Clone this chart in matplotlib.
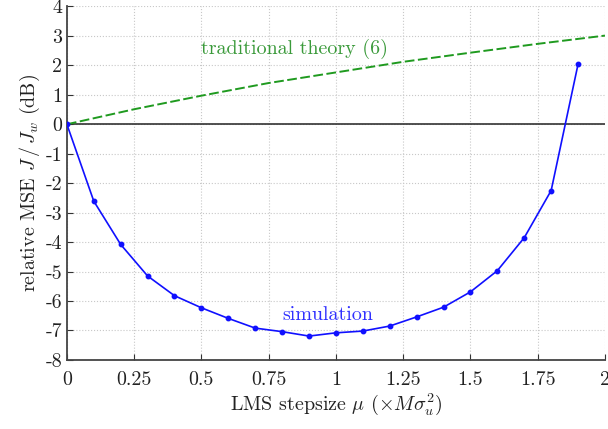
import matplotlib
matplotlib.use("Agg")
import matplotlib.pyplot as plt

plt.rcParams["font.family"] = "serif"
plt.rcParams["font.serif"] = ["cmr10", "DejaVu Serif"]
plt.rcParams["mathtext.fontset"] = "cm"
plt.rcParams["axes.unicode_minus"] = False

# simulated relative MSE (dB) vs LMS stepsize
mu_sim = [0.0, 0.1, 0.2, 0.3, 0.4, 0.5, 0.6, 0.7, 0.8, 0.9,
          1.0, 1.1, 1.2, 1.3, 1.4, 1.5, 1.6, 1.7, 1.8, 1.9]
mse_sim = [0.0, -2.61, -4.08, -5.15, -5.82, -6.23, -6.59, -6.92, -7.04, -7.19,
           -7.08, -7.02, -6.85, -6.54, -6.21, -5.69, -4.97, -3.85, -2.25, 2.04]

# traditional theory curve (6)
mu_th = [0.0, 0.25, 0.5, 0.75, 1.0, 1.25, 1.5, 1.75, 2.0]
mse_th = [0.0, 0.51, 0.97, 1.40, 1.76, 2.12, 2.43, 2.73, 3.01]

x_ticks = [0, 0.25, 0.5, 0.75, 1, 1.25, 1.5, 1.75, 2]
x_labels = ["0", "0.25", "0.5", "0.75", "1", "1.25", "1.5", "1.75", "2"]
y_ticks = list(range(-8, 5))
y_labels = [str(v) for v in y_ticks]

fs = 14.4

fig = plt.figure(figsize=(6.08, 4.29), dpi=100)
ax = fig.add_axes([0.110, 0.161, 0.885, 0.824])

ax.grid(True, color="#c8c8c8", linestyle=":", linewidth=0.8)
ax.axhline(0, color="#333333", linewidth=1.2, zorder=2)
ax.plot(mu_th, mse_th, color="#1f9a1f", linestyle="--", linewidth=1.4, dashes=(5, 1.8), zorder=3)
ax.plot(mu_sim, mse_sim, color="#1010ff", linewidth=1.2, marker="o", markersize=3.2, zorder=4)

ax.text(0.846, 2.55, "traditional theory (6)", color="#3a9a3a", fontsize=fs, ha="center", va="center")
ax.text(0.97, -6.48, "simulation", color="#3030ff", fontsize=fs, ha="center", va="center")

ax.set_xlim(0, 2)
ax.set_ylim(-8, 4)
ax.set_xticks(x_ticks)
ax.set_xticklabels(x_labels)
ax.set_yticks(y_ticks)
ax.set_yticklabels(y_labels)
ax.tick_params(direction="in", length=4, labelsize=fs, colors="#333333", labelcolor="#222222")
ax.tick_params(axis="x", pad=8)
ax.spines["top"].set_visible(False)
ax.spines["right"].set_visible(False)
for s in ("left", "bottom"):
    ax.spines[s].set_color("#444444")
    ax.spines[s].set_linewidth(1.3)

ax.set_xlabel(r"LMS stepsize $\mu$ $(\times M\sigma_u^2)$", fontsize=fs, color="#222222", labelpad=2)
ax.set_ylabel(r"relative MSE $J\,/\,J_w$ (dB)", fontsize=fs, color="#222222", labelpad=2)

fig.savefig("out.png", dpi=100)
